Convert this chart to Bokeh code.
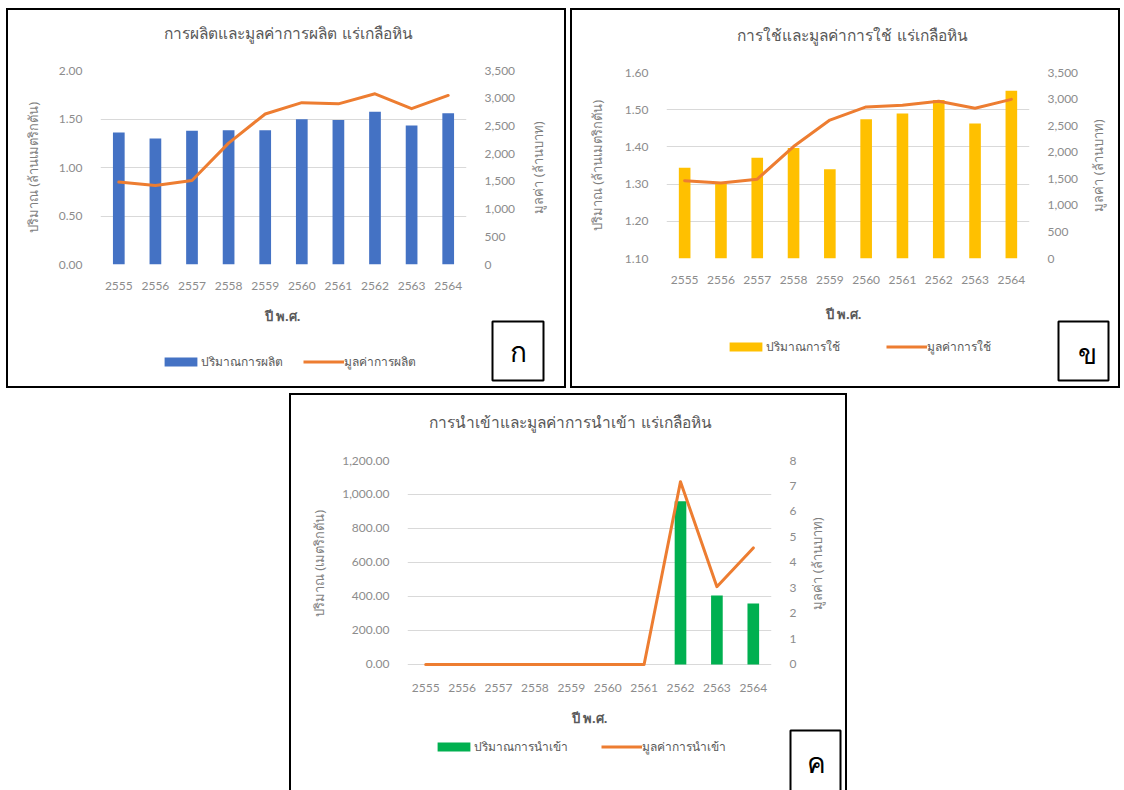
import math
from bokeh.plotting import figure
from bokeh.models import (Range1d, LinearAxis, FixedTicker, NumeralTickFormatter,
                          Legend, LegendItem, Label, BoxAnnotation, Spacer)
from bokeh.layouts import row, column
from bokeh.embed import file_html
from bokeh.resources import INLINE

# Buddhist-era years shared by the three charts
years = ["2555", "2556", "2557", "2558", "2559", "2560", "2561", "2562", "2563", "2564"]

# Production: quantity (million tonnes) and value (million baht)
prod_qty = [1.36, 1.30, 1.378, 1.385, 1.385, 1.497, 1.49, 1.576, 1.432, 1.559]
prod_val = [1488, 1425, 1516, 2190, 2716, 2920, 2898, 3080, 2812, 3050]

# Consumption: quantity (million tonnes) and value (million baht)
use_qty = [1.344, 1.305, 1.371, 1.397, 1.34, 1.474, 1.49, 1.526, 1.463, 1.551]
use_val = [1465, 1420, 1493, 2107, 2605, 2852, 2883, 2958, 2827, 2995]

# Imports: quantity (tonnes) and value (million baht)
imp_qty = [0, 0, 0, 0, 0, 0, 0, 960, 406, 358]
imp_val = [0, 0, 0, 0, 0, 0, 0, 7.17, 3.05, 4.57]

xs = list(range(len(years)))

NUM_FONT = "Lato"
TH_FONT = "Noto Sans"
ORANGE = "#ED7D31"
GRID = "#D9D9D9"
TICK_COLOR = "#8C8C8C"
TEXT_COLOR = "#595959"
AXIS_TITLE_COLOR = "#7F7F7F"


def strip(W, H):
    """Blank canvas addressed in pixels (y grows downward) for text around a chart."""
    s = figure(width=W, height=H, x_range=Range1d(0, W), y_range=Range1d(H, 0),
               min_border=0, frame_align=False, x_axis_location=None, y_axis_location=None,
               output_backend="svg", toolbar_location=None, tools="")
    s.outline_line_color = None
    s.grid.visible = False
    return s


def title_strip(W, H, text, pos):
    s = strip(W, H)
    s.add_layout(Label(x=pos[0], y=pos[1], text=text, text_align="center",
                       text_baseline="middle", text_font=TH_FONT, text_font_size="15.5px",
                       text_color=TEXT_COLOR))
    return s


def value_title_strip(W, H, text, pos):
    s = strip(W, H)
    s.add_layout(Label(x=pos[0], y=pos[1], text=text, angle=math.pi / 2, text_align="center",
                       text_baseline="middle", text_font=TH_FONT, text_font_size="13px",
                       text_color=AXIS_TITLE_COLOR))
    return s


def chart(W, H, L, R, T, fh, yr, yticks, yfmt, vr, vticks, vfmt, qty, val, bar_color,
          ylab, ylab_standoff):
    """Bars on the left axis, value line on the right axis."""
    p = figure(width=W, height=H, x_range=Range1d(-0.5, 9.5), y_range=Range1d(*yr),
               min_border_left=L, min_border_right=R, min_border_top=T,
               min_border_bottom=H - T - fh, frame_align=False,
               output_backend="svg", toolbar_location=None, tools="")
    p.outline_line_color = None
    p.title.text = ""

    p.extra_y_ranges = {"v": Range1d(*vr)}

    xa = p.xaxis[0]
    xa.ticker = FixedTicker(ticks=xs)
    xa.major_label_overrides = {i: y for i, y in zip(xs, years)}
    xa.major_label_standoff = 11

    ya = p.yaxis[0]
    ya.ticker = FixedTicker(ticks=yticks)
    ya.formatter = NumeralTickFormatter(format=yfmt)
    ya.axis_label = ylab
    ya.axis_label_standoff = ylab_standoff
    ya.major_label_standoff = 12
    ya.axis_label_text_font = TH_FONT
    ya.axis_label_text_font_size = "13px"
    ya.axis_label_text_font_style = "normal"
    ya.axis_label_text_color = AXIS_TITLE_COLOR

    va = LinearAxis(y_range_name="v", ticker=FixedTicker(ticks=vticks),
                    formatter=NumeralTickFormatter(format=vfmt))
    va.major_label_standoff = 12
    p.add_layout(va, "right")

    for ax in (xa, ya, va):
        ax.axis_line_color = None
        ax.major_tick_line_color = None
        ax.minor_tick_line_color = None
        ax.major_label_text_font = NUM_FONT
        ax.major_label_text_font_size = "12px"
        ax.major_label_text_color = TICK_COLOR

    p.xgrid.visible = False
    p.ygrid.grid_line_color = GRID
    p.ygrid.grid_line_width = 1

    p.vbar(x=xs, top=qty, width=0.32, fill_color=bar_color, line_color=None)
    p.line(x=xs, y=val, line_color=ORANGE, line_width=3, y_range_name="v",
           line_join="round", line_cap="round")
    return p


def footer(W, H, qty, val, bar_color, labels, legend_x, legend_cy, spacing,
           xlab_pos, box, letter_pos, letter):
    """Strip under a chart: x-axis title, legend and the lettered tag box."""
    s = strip(W, H)
    # hidden copies of the chart series, used only for the legend swatches
    sw_bar = s.vbar(x=xs, top=qty, width=0.32, fill_color=bar_color, line_color=None, visible=False)
    sw_line = s.line(x=xs, y=val, line_color=ORANGE, line_width=3, visible=False)
    lh = 16
    legend = Legend(items=[LegendItem(label=labels[0], renderers=[sw_bar]),
                           LegendItem(label=labels[1], renderers=[sw_line])],
                    location=(legend_x, H - legend_cy - lh / 2), orientation="horizontal",
                    glyph_width=41, glyph_height=11, label_height=11,
                    label_standoff=0, spacing=spacing, padding=0, margin=0,
                    border_line_color=None, background_fill_alpha=0,
                    inactive_fill_alpha=0,
                    label_text_font=TH_FONT, label_text_font_size="12px",
                    label_text_color=TEXT_COLOR)
    s.add_layout(legend)
    s.add_layout(Label(x=xlab_pos[0], y=xlab_pos[1], text="ปี พ.ศ.",
                       text_align="center", text_baseline="middle",
                       text_font=TH_FONT, text_font_size="13px", text_font_style="bold",
                       text_color=TEXT_COLOR))
    bx0, by0, bx1, by1 = box
    s.add_layout(BoxAnnotation(left=bx0, right=bx1, top=by0, bottom=by1,
                               fill_color="white", fill_alpha=1,
                               line_color="black", line_alpha=1, line_width=2))
    s.add_layout(Label(x=letter_pos[0], y=letter_pos[1], text=letter,
                       text_align="center", text_baseline="middle",
                       text_font=TH_FONT, text_font_size="28px", text_color="black"))
    return s


BORDER = {"border": "2px solid black", "box-sizing": "content-box", "background": "white"}

# --- production ---
c1 = chart(512, 240, 92, 54, 10, 194, (0, 2.0), [0, 0.5, 1.0, 1.5, 2.0], "0.00",
           (0, 3500), [0, 500, 1000, 1500, 2000, 2500, 3000, 3500], "0,0",
           prod_qty, prod_val, "#4472C4", "ปริมาณ (ล้านเมตริกตัน)", 14)
panel1 = column(
    title_strip(556, 50, "การผลิตและมูลค่าการผลิต แร่เกลือหิน", (280, 22)),
    row(c1, value_title_strip(44, 240, "มูลค่า (ล้านบาท)", (17, 107))),
    footer(556, 86, prod_qty, prod_val, "#4472C4", ["ปริมาณการผลิต", "มูลค่าการผลิต"],
           152, 63, 20, (274, 15), (484, 21, 535, 80), (510, 50), "ก"),
    styles=BORDER)

# --- consumption ---
c2 = chart(510, 234, 94, 53, 12, 186, (1.1, 1.6), [1.1, 1.2, 1.3, 1.4, 1.5, 1.6], "0.00",
           (0, 3500), [0, 500, 1000, 1500, 2000, 2500, 3000, 3500], "0,0",
           use_qty, use_val, "#FFC000", "ปริมาณ (ล้านเมตริกตัน)", 16)
panel2 = column(
    title_strip(546, 50, "การใช้และมูลค่าการใช้ แร่เกลือหิน", (280, 24)),
    row(c2, value_title_strip(36, 234, "มูลค่า (ล้านบาท)", (15, 105))),
    footer(546, 92, use_qty, use_val, "#FFC000", ["ปริมาณการใช้", "มูลค่าการใช้"],
           153, 54, 46, (271, 19), (486, 27, 536, 86), (515, 58), "ข"),
    styles=BORDER)

# --- imports (axis floor padded slightly so the zero-value line is not clipped) ---
c3 = chart(509, 257, 116, 29, 15, 206, (-12, 1200), [0, 200, 400, 600, 800, 1000, 1200], "0,0.00",
           (-0.08, 8), [0, 1, 2, 3, 4, 5, 6, 7, 8], "0",
           imp_qty, imp_val, "#00B050", "ปริมาณ (เมตริกตัน)", 11)
panel3 = column(
    title_strip(554, 50, "การนำเข้าและมูลค่าการนำเข้า แร่เกลือหิน", (279, 26)),
    row(c3, value_title_strip(45, 257, "มูลค่า (ล้านบาท)", (16, 118))),
    footer(554, 88, imp_qty, imp_val, "#00B050", ["ปริมาณการนำเข้า", "มูลค่าการนำเข้า"],
           142, 46, 33, (298, 15), (499, 28, 549, 95), (525, 59), "ค"),
    styles=dict(BORDER, **{"border-bottom": "none"}))

layout = column(Spacer(height=8),
                row(Spacer(width=6), panel1, Spacer(width=4), panel2),
                Spacer(height=5),
                row(Spacer(width=289), panel3))

open("out.html", "w").write(file_html(layout, INLINE))
